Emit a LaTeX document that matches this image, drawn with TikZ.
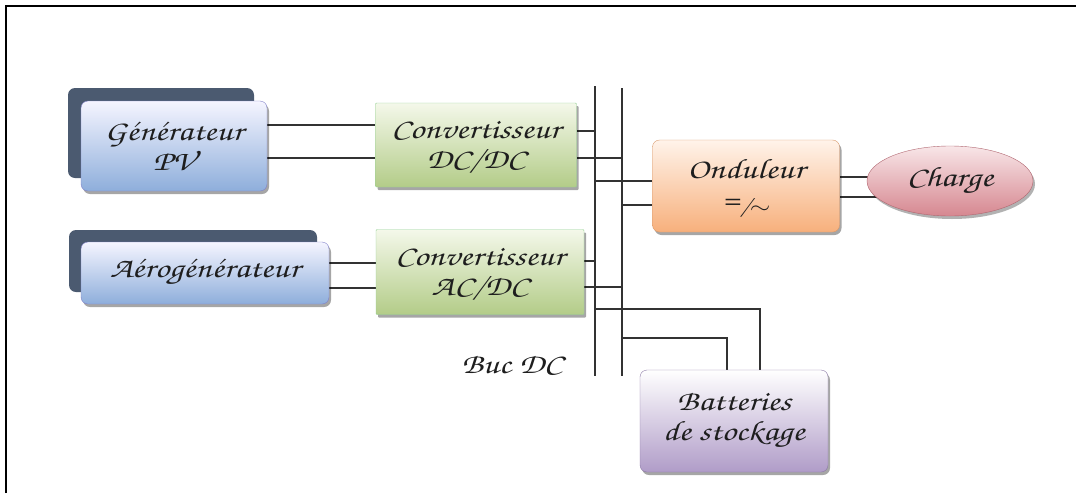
\documentclass[tikz,border=0pt]{standalone}
\usetikzlibrary{shapes.geometric,shadows,calc}
\newcommand\mycal{\fontencoding{T1}\fontfamily{pzc}\fontseries{mb}\fontshape{it}\fontsize{28}{30}\selectfont}
\newcommand\widetxt[1]{\scalebox{1.27}[1]{#1}}
\definecolor{txt}{HTML}{1E1E1E}
\definecolor{shad}{HTML}{4B5A70}
\pgfdeclarelayer{bg}
\pgfsetlayers{bg,main}
\tikzset{
  box/.style={rectangle, rounded corners=7pt, align=center, inner sep=0pt, text=txt,
     font=\mycal, drop shadow={shadow xshift=2pt, shadow yshift=-3pt, opacity=.35, fill=black}},
  genbox/.style={box, draw=blue!40!gray!70, top color=blue!4, bottom color={rgb,255:red,142;green,174;blue,219}},
  convbox/.style={box, rounded corners=1pt, draw=green!40!gray!60, top color={rgb,255:red,244;green,248;blue,234}, bottom color={rgb,255:red,179;green,204;blue,136}},
  ondbox/.style={box, draw={rgb,255:red,216;green,152;blue,106}, top color={rgb,255:red,255;green,243;blue,234}, bottom color={rgb,255:red,247;green,176;blue,124}},
  battbox/.style={box, draw={rgb,255:red,140;green,122;blue,166}, top color=white, bottom color={rgb,255:red,176;green,156;blue,200}},
  chargebox/.style={ellipse, inner sep=0pt, draw={rgb,255:red,176;green,102;blue,112}, text=txt, font=\mycal,
     top color={rgb,255:red,248;green,230;blue,232}, bottom color={rgb,255:red,214;green,135;blue,144},
     drop shadow={shadow xshift=2pt, shadow yshift=-3pt, opacity=.3, fill=black}},
  shadowbox/.style={rectangle, rounded corners=7pt, fill=shad},
  wire/.style={draw={rgb,255:red,50;green,50;blue,50}, line width=1.1pt},
  frame/.style={line width=1.6pt, black}
}
\begin{document}
\begin{tikzpicture}[x=1pt,y=-1pt]
\useasboundingbox (0,0) rectangle (1076,493);
\draw[frame] (6,493) -- (6,6) -- (1076,6);

% shadows behind the generators
\node[shadowbox, minimum width=186pt, minimum height=90pt] (genS) at (161,133) {};
\node[shadowbox, minimum width=248pt, minimum height=62pt] (aeroS) at (193,261) {};

% nodes
\node[genbox, minimum width=186pt, minimum height=90pt] (gen) at (174,146) {\widetxt{Générateur}\\[0pt]\widetxt{PV}};
\node[convbox, minimum width=201pt, minimum height=84pt] (conv1) at (476,145) {\widetxt{Convertisseur}\\[0pt]\widetxt{DC/DC}};
\node[genbox, minimum width=248pt, minimum height=62pt] (aero) at (205,273) {\widetxt{Aérogénérateur}};
\node[convbox, minimum width=208pt, minimum height=85pt] (conv2) at (480,272) {\widetxt{Convertisseur}\\[0pt]\widetxt{AC/DC}};
\node[ondbox, minimum width=187pt, minimum height=92pt] (ond) at (746,186) {\widetxt{Onduleur}\\[0pt]\widetxt{={\fontsize{22}{22}\selectfont\raisebox{-5pt}{/$\sim$}}}};
\node[chargebox, minimum width=166pt, minimum height=70pt] (charge) at (950,181) {\widetxt{Charge}};
\node[battbox, minimum width=188pt, minimum height=102pt] (batt) at (734,421) {\widetxt{Batteries}\\[0pt]\widetxt{de stockage}};
\node[text=txt, font=\mycal, anchor=center] (buc) at (512,364) {\widetxt{Buc DC}};

% bus coordinates
\coordinate (Atop) at (595,86);
\coordinate (Abot) at (595,376);
\coordinate (Btop) at (622,88);
\coordinate (Bbot) at (622,376);
\coordinate (bA) at (760,309);
\coordinate (bB) at (727,338);

\begin{pgfonlayer}{bg}
\draw[wire] (Atop) -- (Abot);
\draw[wire] (Btop) -- (Bbot);
% generator PV -> converter
\draw[wire] ([yshift=21pt]gen.east) -- ([yshift=21pt]gen.east -| conv1.west);
\draw[wire] ([yshift=-12pt]gen.east) -- ([yshift=-12pt]gen.east -| conv1.west);
% aero -> converter
\draw[wire] ([yshift=10pt]aero.east) -- ([yshift=10pt]aero.east -| conv2.west);
\draw[wire] ([yshift=-15pt]aero.east) -- ([yshift=-15pt]aero.east -| conv2.west);
% converters -> bus
\draw[wire] ([yshift=14pt]conv1.east) -- ([yshift=14pt]conv1.east -| Atop);
\draw[wire] ([yshift=-13pt]conv1.east) -- ([yshift=-13pt]conv1.east -| Btop);
\draw[wire] ([yshift=11pt]conv2.east) -- ([yshift=11pt]conv2.east -| Atop);
\draw[wire] ([yshift=-15pt]conv2.east) -- ([yshift=-15pt]conv2.east -| Btop);
% bus -> onduleur
\draw[wire] ([yshift=5pt]ond.west -| Atop) -- ([yshift=5pt]ond.west);
\draw[wire] ([yshift=-19pt]ond.west -| Btop) -- ([yshift=-19pt]ond.west);
% onduleur -> charge
\draw[wire] ([yshift=9pt]ond.east) -- ([yshift=9pt]ond.east -| charge.center);
\draw[wire] ([yshift=-11pt]ond.east) -- ([yshift=-11pt]ond.east -| charge.center);
% bus -> batteries
\draw[wire] (bA -| Atop) -- (bA) -- (bA |- batt.north);
\draw[wire] (bB -| Btop) -- (bB) -- (bB |- batt.north);
\end{pgfonlayer}
\end{tikzpicture}
\end{document}
